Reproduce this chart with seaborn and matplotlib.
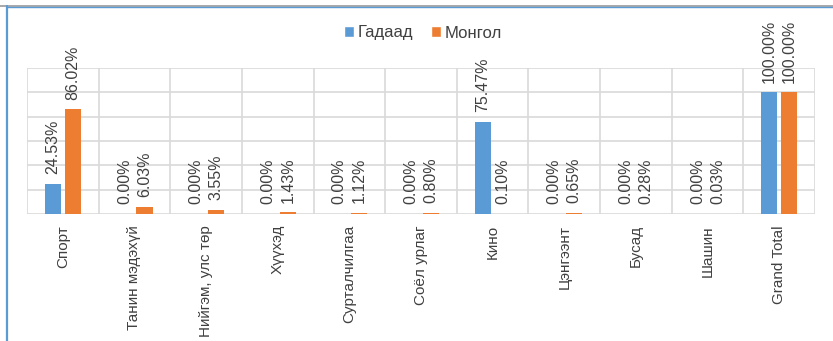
import matplotlib
matplotlib.use("Agg")
import matplotlib.pyplot as plt
from matplotlib.lines import Line2D
from matplotlib.patches import Patch
import pandas as pd
import seaborn as sns

categories = ["Спорт", "Танин мэдэхүй", "Нийгэм, улс төр", "Хүүхэд", "Сурталчилгаа",
              "Соёл урлаг", "Кино", "Цэнгээнт", "Бусад", "Шашин", "Grand Total"]
gadaad = [24.53, 0.00, 0.00, 0.00, 0.00, 0.00, 75.47, 0.00, 0.00, 0.00, 100.00]
mongol = [86.02, 6.03, 3.55, 1.43, 1.12, 0.80, 0.10, 0.65, 0.28, 0.03, 100.00]
series = ["Гадаад", "Монгол"]
colors = ["#5B9BD5", "#ED7D31"]

df = pd.DataFrame({
    "category": categories * 2,
    "series": [series[0]] * len(categories) + [series[1]] * len(categories),
    "value": gadaad + mongol,
})

sns.set_theme(style="white")
plt.rcParams["font.family"] = ["Liberation Sans", "DejaVu Sans"]
text_color = "#404040"
grid_color = "#D9D9D9"

fig = plt.figure(figsize=(8.33, 3.41), dpi=100)
ax = fig.add_axes([27 / 833, 1 - 214 / 341, (815 - 27) / 833, (214 - 68) / 341])

sns.barplot(data=df, x="category", y="value", hue="series", hue_order=series,
            palette=colors, width=0.56, gap=0.2, ax=ax, legend=False,
            saturation=1, errorbar=None, linewidth=0)

ax.set_ylim(0, 120)
ax.set_xlim(-0.5, len(categories) - 0.5)
ax.set_yticks(range(0, 121, 20))
ax.set_yticklabels([])
ax.set_xticks(range(len(categories)))
ax.set_xticklabels(categories, rotation=90, fontsize=11, color=text_color)
ax.set_xticks([i - 0.5 for i in range(len(categories) + 1)], minor=True)
ax.tick_params(axis="both", which="both", length=0)
ax.tick_params(axis="x", pad=8)
ax.grid(True, axis="y", which="major", color=grid_color, linewidth=1.2)
ax.grid(True, axis="x", which="minor", color=grid_color, linewidth=1.2)
ax.grid(False, axis="x", which="major")
ax.set_axisbelow(True)
ax.set_xlabel("")
ax.set_ylabel("")
for s in ax.spines.values():
    s.set_visible(False)

for container in ax.containers:
    ax.bar_label(container, labels=[f"{v:.2f}%" for v in container.datavalues],
                 rotation=90, padding=7, fontsize=11.5, color=text_color)

handles = [Patch(facecolor=c, label=s) for s, c in zip(series, colors)]
fig.legend(handles=handles, loc="center", bbox_to_anchor=(423 / 833, 1 - 33 / 341),
           ncol=2, frameon=False, fontsize=12, handlelength=0.6, handleheight=0.6,
           handletextpad=0.2, columnspacing=1.1, labelcolor=text_color)

# outer frame edges
fig.add_artist(Line2D([0, 1], [1 - 5.5 / 341] * 2, transform=fig.transFigure,
                      color="#9A9A9A", linewidth=1.2))
fig.add_artist(Line2D([6.5 / 833, 1], [1 - 7 / 341] * 2, transform=fig.transFigure,
                      color="#5B9BD5", linewidth=1.0))
fig.add_artist(Line2D([6.5 / 833] * 2, [0, 1 - 6 / 341], transform=fig.transFigure,
                      color="#5B9BD5", linewidth=1.6))

fig.savefig("out.png", dpi=100)
